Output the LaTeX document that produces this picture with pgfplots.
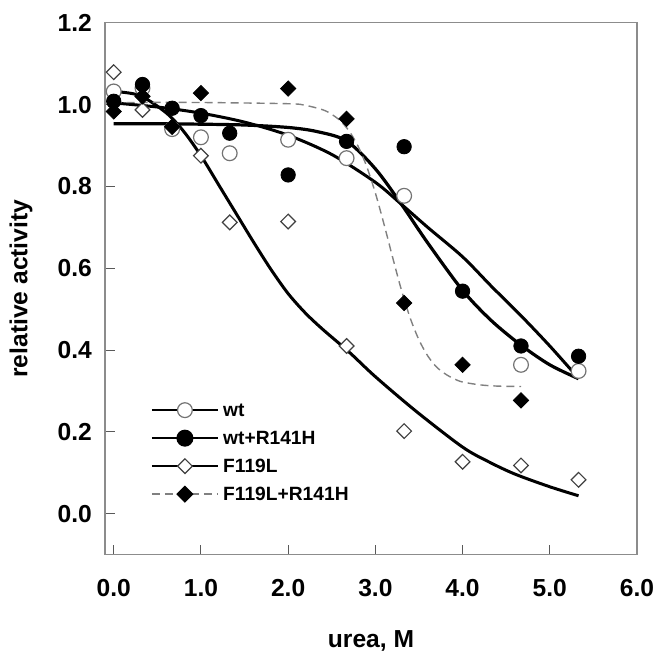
\documentclass[border=0pt]{standalone}
\usepackage{pgfplots}
\pgfplotsset{compat=1.18}
\usepackage{fontspec}
\setmainfont{Liberation Sans}
\definecolor{mkgray}{gray}{0.45}
\definecolor{axgray}{gray}{0.55}
\definecolor{dashgray}{gray}{0.5}
\begin{document}
\begin{tikzpicture}
\begin{axis}[name=ax, width=266pt, height=266pt, scale only axis,
  xmin=-0.1, xmax=6.0, ymin=-0.1, ymax=1.2,
  xtick={0,1,2,3,4,5,6}, ytick={0,0.2,0.4,0.6,0.8,1.0,1.2},
  tick pos=left, tick align=inside, major tick length=5pt,
  axis line style={axgray, line width=0.6pt},
  tick style={black!65, line width=0.5pt},
  /pgf/number format/assume math mode=true,
  xticklabel style={/pgf/number format/fixed, /pgf/number format/fixed zerofill, /pgf/number format/precision=1, yshift=-9pt},
  yticklabel style={/pgf/number format/fixed, /pgf/number format/fixed zerofill, /pgf/number format/precision=1, xshift=-3pt},
  ticklabel style={font=\fontsize{12.3}{14}\selectfont\bfseries},
  label style={font=\fontsize{12.3}{14}\selectfont\bfseries},
  xlabel={urea, M}, ylabel={relative activity},
  xlabel style={at={(axis description cs:0.5,-0.163)}, anchor=center},
  ylabel style={at={(axis description cs:-0.158,0.5)}, anchor=center},
  legend image code/.code={\draw[mark repeat=2,mark phase=2,#1] plot coordinates {(0pt,0pt) (16.5pt,0pt) (33pt,0pt)};},
  legend style={at={(axis description cs:0.085,0.295)}, anchor=north west, draw=none, fill=none,
    font=\fontsize{9.6}{11}\selectfont\bfseries, row sep=2pt, inner sep=0pt,
    nodes={inner sep=2pt, text height=7pt, text depth=1pt}},
  legend cell align=left,
]
% fitted curves
\addplot[black, line width=1.5pt, smooth, forget plot] coordinates {
(0,1.004)(0.5,0.994)(1.0,0.979)(1.5,0.957)(2.0,0.925)(2.5,0.878)(3.0,0.81)(3.3,0.756)(3.6,0.70)(4.0,0.628)(4.33,0.556)(4.67,0.484)(5.0,0.41)(5.33,0.331)};
\addplot[black, line width=1.6pt, smooth, forget plot] coordinates {
(0,0.953)(0.5,0.953)(1.0,0.952)(1.5,0.950)(2.0,0.944)(2.33,0.934)(2.67,0.911)(3.0,0.843)(3.3,0.756)(3.6,0.662)(4.0,0.546)(4.33,0.472)(4.67,0.412)(5.0,0.364)(5.33,0.330)};
\addplot[black, line width=1.5pt, smooth, forget plot] coordinates {
(0,1.032)(0.3,1.022)(0.6,0.98)(0.8,0.935)(1.0,0.875)(1.2,0.805)(1.4,0.735)(1.6,0.665)(1.8,0.598)(2.0,0.538)(2.2,0.49)(2.4,0.45)(2.7,0.395)(3.0,0.335)(3.47,0.25)(4.0,0.163)(4.3,0.127)(4.6,0.097)(5.0,0.066)(5.33,0.044)};
\addplot[dashgray, line width=0.7pt, dash pattern=on 4pt off 2.5pt, smooth, forget plot] coordinates {
(0,1.005)(1.0,1.005)(2.0,1.002)(2.2,0.998)(2.4,0.987)(2.5,0.976)(2.6,0.960)(2.7,0.935)(2.8,0.899)(2.9,0.849)(3.0,0.784)(3.1,0.707)(3.2,0.625)(3.3,0.546)(3.4,0.478)(3.5,0.425)(3.6,0.386)(3.7,0.359)(3.8,0.342)(3.9,0.330)(4.0,0.322)(4.2,0.315)(4.4,0.312)(4.67,0.311)};
% data points
\addplot[only marks, mark=*, mark size=3.7pt, mark options={draw=mkgray, fill=white, line width=0.6pt}, forget plot] coordinates {
(0,1.032)(0.33,1.04)(0.67,0.94)(1.0,0.92)(1.33,0.881)(2.0,0.914)(2.67,0.869)(3.33,0.777)(4.67,0.364)(5.33,0.349)};
\addplot[only marks, mark=*, mark size=3.6pt, mark options={draw=black, fill=black}, forget plot] coordinates {
(0,1.008)(0.33,1.049)(0.67,0.991)(1.0,0.973)(1.33,0.93)(2.0,0.828)(2.67,0.91)(3.33,0.897)(4.0,0.544)(4.67,0.41)(5.33,0.385)};
\addplot[only marks, mark=square*, mark size=2.6pt, mark options={rotate=45, draw=black!75, fill=white, line width=0.6pt}, forget plot] coordinates {
(0,1.079)(0.33,0.987)(0.67,0.945)(1.0,0.875)(1.33,0.712)(2.0,0.714)(2.67,0.41)(3.33,0.202)(4.0,0.127)(4.67,0.118)(5.33,0.083)};
\addplot[only marks, mark=square*, mark size=2.7pt, mark options={rotate=45, draw=black, fill=black}, forget plot] coordinates {
(0,0.983)(0.33,1.02)(0.67,0.946)(1.0,1.028)(2.0,1.039)(2.67,0.965)(3.33,0.515)(4.0,0.364)(4.67,0.277)};
% legend
\addlegendimage{black, line width=1.3pt, mark=*, mark size=3.7pt, mark options={draw=mkgray, fill=white, line width=0.6pt}}
\addlegendentry{wt}
\addlegendimage{black, line width=1.3pt, mark=*, mark size=3.6pt, mark options={draw=black, fill=black}}
\addlegendentry{wt+R141H}
\addlegendimage{black, line width=1.3pt, mark=square*, mark size=2.6pt, mark options={rotate=45, draw=black!75, fill=white, line width=0.6pt, solid}}
\addlegendentry{F119L}
\addlegendimage{dashgray, line width=0.7pt, dash pattern=on 4pt off 2.5pt, mark=square*, mark size=2.7pt, mark options={rotate=45, draw=black, fill=black, solid}}
\addlegendentry{F119L+R141H}
\end{axis}
\pgfresetboundingbox
\path[use as bounding box] ([xshift=-52.5pt,yshift=-50pt]ax.south west) rectangle ([xshift=14.5pt,yshift=11.35pt]ax.north east);
\end{tikzpicture}
\end{document}
